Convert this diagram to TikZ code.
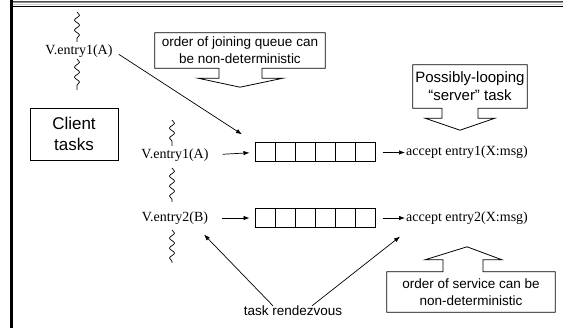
\documentclass[tikz,border=0pt]{standalone}
\usepackage{fontspec}
\setmainfont{Liberation Serif}
\setsansfont{Liberation Sans}
\usetikzlibrary{calc, positioning}
\usetikzlibrary{arrows.meta}
\usetikzlibrary{decorations.pathmorphing}

\tikzset{
  entrytxt/.style={font=\fontsize{14}{16}\selectfont, inner sep=1pt},
  notetxt/.style={font=\sffamily\fontsize{13.5}{17}\selectfont, align=center, inner sep=0pt},
  cell/.style={draw, line width=1pt, minimum width=20, minimum height=19, inner sep=0pt},
  arr/.style={-{Latex[length=6pt, width=4.5pt]}, line width=0.7pt},
  wavy/.style={decorate, decoration={snake, segment length=10pt, amplitude=2.5pt}, line width=0.7pt},
  outline/.style={line width=0.8pt, line join=miter}
}

\begin{document}
\begin{tikzpicture}[x=1pt, y=-1pt]
\useasboundingbox (0,0) rectangle (563,328);

% frame
\draw[line width=3pt] (11,0) -- (11,328);
\draw[line width=1pt, black!70] (12.5,1.5) -- (563,1.5);
\draw[line width=1pt, black!45] (12.5,3) -- (563,3);
\draw[line width=1pt, black!20] (12.5,4.5) -- (563,4.5);
\draw[line width=1pt] (12.5,6.5) -- (563,6.5);

% client side
\node[entrytxt] (e1a) at (79,51) {V.entry1(A)};
\draw[wavy] (77,12) -- (77,42);
\draw[wavy] (77,59) -- (77,90);

\node[draw, line width=0.8pt, minimum width=88, minimum height=52, inner sep=0pt,
      align=center, font=\sffamily\fontsize{17}{21}\selectfont] (client) at (74,134) {Client\\tasks};

\node[entrytxt] (e1b) at (175,155) {V.entry1(A)};
\node[entrytxt] (e2b) at (175,218) {V.entry2(B)};
\draw[wavy] (172,120) -- (172,146);
\draw[wavy] (172,168) -- (172,202);
\draw[wavy] (172,230) -- (172,263);

% entry queues
\foreach \i in {1,...,6} {
  \node[cell] (qa\i) at (245+20*\i, 152.5) {};
  \node[cell] (qb\i) at (245+20*\i, 218) {};
}

% server side
\node[entrytxt, anchor=west] (acc1) at (405,152.5) {accept entry1(X:msg)};
\node[entrytxt, anchor=west] (acc2) at (405,218) {accept entry2(X:msg)};

\draw[arr, shorten <=6pt, shorten >=15pt] (e1a.east) -- (qa1.north west);
\draw[arr, shorten <=13pt, shorten >=5pt] (e1b.east) -- (qa1.west);
\draw[arr, shorten <=13pt, shorten >=5pt] (e2b.east) -- (qb1.west);
\draw[arr, shorten <=7pt] (qa6.east) -- (acc1.west);
\draw[arr, shorten <=7pt] (qb6.east) -- (acc2.west);

% rendezvous
\node[notetxt] (rdv) at (293,311) {task rendezvous};
\draw[arr] ($(rdv.north)+(-20,0)$) -- ($(e2b.south)+(29,9)$);
\draw[arr] ($(rdv.north)+(19,0)$) -- ($(acc2.south west)+(-5,11)$);

% callouts
\node[notetxt, minimum width=170, minimum height=35] (joinnote) at (240,50.5)
  {order of joining queue can\\be non-deterministic};
\draw[outline] (joinnote.south west) -- (joinnote.north west) -- (joinnote.north east)
  -- (joinnote.south east) -- ($(joinnote.south)+(22,0)$) -- ++(0,10) -- ++(21,0)
  -- ($(joinnote.south)+(0,19)$) -- ($(joinnote.south)+(-42,10)$) -- ++(21,0)
  -- ++(0,-10) -- cycle;

\node[notetxt, font=\sffamily\fontsize{15}{18}\selectfont, minimum width=114, minimum height=43]
  (servernote) at (470,86.5) {Possibly-looping\\``server'' task};
\draw[outline] (servernote.south west) -- (servernote.north west) -- (servernote.north east)
  -- (servernote.south east) -- ($(servernote.south)+(8,0)$) -- ++(0,10) -- ++(17,0)
  -- ($(servernote.south)+(-10,22)$) -- ($(servernote.south)+(-45,10)$) -- ++(17,0)
  -- ++(0,-10) -- cycle;

\node[notetxt, minimum width=168, minimum height=40] (servnote) at (471,292)
  {order of service can be\\non-deterministic};
\draw[outline] (servnote.north west) -- (servnote.south west) -- (servnote.south east)
  -- (servnote.north east) -- ($(servnote.north)+(12,0)$) -- ++(0,-12) -- ++(19,0)
  -- ($(servnote.north)+(-4,-25)$) -- ($(servnote.north)+(-46,-12)$) -- ++(18,0)
  -- ++(0,12) -- cycle;

\end{tikzpicture}
\end{document}
